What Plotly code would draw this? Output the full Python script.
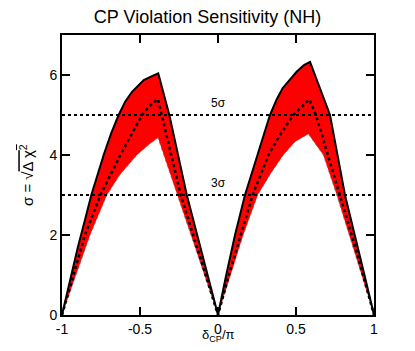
import plotly.graph_objects as go

# ====================================
# DATA
# ====================================

# upper edge of the band (solid line)
x_upper = [-1.0, -0.95, -0.9, -0.85, -0.812, -0.733, -0.685, -0.637, -0.594, -0.551,
           -0.476, -0.42, -0.383,
           -0.312, -0.2, -0.1, 0.0,
           0.05, 0.109, 0.173, 0.252, 0.333, 0.375, 0.414, 0.504, 0.551, 0.59,
           0.65, 0.718, 0.814, 0.878, 0.94, 1.0]
y_upper = [0.0, 0.85, 1.67, 2.42, 3.0, 4.0, 4.54, 5.0, 5.34, 5.58,
           5.875, 5.98, 6.04,
           5.0, 3.0, 1.5, 0.0,
           0.95, 2.0, 3.0, 4.0, 5.0, 5.38, 5.67, 6.08, 6.25, 6.33,
           5.71, 5.0, 3.0, 2.0, 0.98, 0.0]

# central curve (dotted)
x_central = [-1.0, -0.95, -0.9, -0.853, -0.754, -0.626, -0.487, -0.44, -0.385,
             -0.36, -0.239, -0.1, 0.0,
             0.07, 0.145, 0.222, 0.323, 0.397, 0.483, 0.585,
             0.628, 0.782, 0.857, 0.93, 1.0]
y_central = [0.0, 0.68, 1.36, 2.0, 3.0, 4.0, 5.0, 5.22, 5.4,
             5.0, 3.0, 1.26, 0.0,
             1.0, 2.0, 3.0, 4.0, 4.5, 5.0, 5.39,
             5.0, 3.0, 2.0, 1.0, 0.0]

# lower edge of the band
x_lower = [-1.0, -0.9, -0.82, -0.712, -0.63, -0.52, -0.44, -0.385,
           -0.261, -0.1, 0.0,
           0.08, 0.162, 0.255, 0.34, 0.419, 0.494, 0.579,
           0.675, 0.761, 0.842, 0.92, 1.0]
y_lower = [0.0, 1.11, 2.0, 3.0, 3.5, 4.0, 4.27, 4.43,
           3.0, 1.15, 0.0,
           1.0, 2.0, 3.0, 3.55, 4.0, 4.33, 4.525,
           4.0, 3.0, 2.0, 1.0, 0.0]

sigma_levels = [3, 5]
sigma_labels = ["3σ", "5σ"]

# ====================================
# FIGURE
# ====================================

fig = go.Figure()

# red band between upper and lower edges
fig.add_trace(go.Scatter(
    x=x_upper + x_lower[::-1],
    y=y_upper + y_lower[::-1],
    fill="toself",
    fillcolor="#ff0000",
    mode="lines",
    line=dict(width=0),
    hoverinfo="skip"
))

# lower edge, faint grey
fig.add_trace(go.Scatter(
    x=x_lower, y=y_lower, mode="lines",
    line=dict(color="rgba(110,110,110,0.7)", width=1, dash="dot")
))

# 3 sigma / 5 sigma lines
for lvl, lab in zip(sigma_levels, sigma_labels):
    fig.add_trace(go.Scatter(
        x=[-1, 1], y=[lvl, lvl], mode="lines",
        line=dict(color="black", width=2, dash="dot")
    ))
    fig.add_annotation(
        x=0, y=lvl, text=lab, showarrow=False,
        yshift=12, font=dict(size=12, color="black")
    )

fig.add_trace(go.Scatter(
    x=x_central, y=y_central, mode="lines",
    line=dict(color="black", width=2.5, dash="dot")
))

fig.add_trace(go.Scatter(
    x=x_upper, y=y_upper, mode="lines",
    line=dict(color="black", width=2)
))

# axis titles as annotations (placed by hand)
fig.add_annotation(
    xref="paper", yref="paper", x=0.5, y=0, yshift=-20,
    xanchor="center", yanchor="middle", showarrow=False,
    text="δ<sub>CP</sub>/π", font=dict(size=13, color="black")
)
fig.add_annotation(
    xref="paper", yref="paper", x=0, y=0.5, xshift=-36,
    xanchor="center", yanchor="middle", showarrow=False, textangle=-90,
    text="σ = √<span style='text-decoration:overline'>Δ χ<sup>2</sup></span>",
    font=dict(size=15, color="black")
)

# ====================================
# LAYOUT
# ====================================

axis_style = dict(
    showline=True, linecolor="black", linewidth=2, mirror="ticks",
    ticks="inside", ticklen=8, tickwidth=1.5, tickcolor="black",
    showgrid=False, zeroline=False, automargin=False,
    tickfont=dict(size=14, color="black")
)

fig.update_layout(
    width=399, height=335,
    template="plotly_white",
    plot_bgcolor="white",
    paper_bgcolor="white",
    showlegend=False,
    font=dict(family="Liberation Sans, Arial, sans-serif", color="black"),
    title=dict(
        text="CP Violation Sensitivity (NH)",
        x=0.5, xanchor="center", y=0.973, yanchor="middle",
        font=dict(size=18, color="black")
    ),
    margin=dict(l=54, r=33, t=27, b=28),
    xaxis=dict(
        range=[-1, 1], tickvals=[-1, -0.5, 0, 0.5, 1],
        ticktext=["-1", "-0.5", "0", "0.5", "1"],
        **axis_style
    ),
    yaxis=dict(
        range=[0, 7], tickvals=[0, 2, 4, 6],
        **axis_style
    )
)

fig.write_html("out.html")
